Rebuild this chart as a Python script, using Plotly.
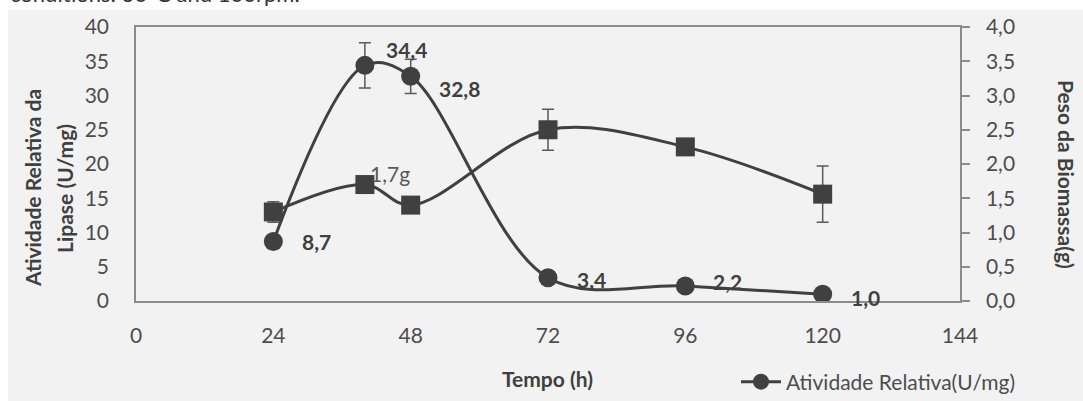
import plotly.graph_objects as go

# ---- data ----
tempo = [24, 40, 48, 72, 96, 120]
atividade = [8.7, 34.4, 32.8, 3.4, 2.2, 1.0]
atividade_err = [0, 3.3, 2.5, 0, 0, 0]
atividade_labels = ["8,7", "34,4", "32,8", "3,4", "2,2", "1,0"]
biomassa = [1.3, 1.7, 1.4, 2.5, 2.25, 1.56]
biomassa_err = [0.15, 0, 0, 0.3, 0, 0.41]
x_ticks = [0, 24, 48, 72, 96, 120, 144]

# ---- layout geometry (pixels) ----
W, H = 1083, 401
L, R, T, B = 136, 960, 27, 301
pw, ph = R - L, B - T


def px_x(p):
    return (p - L) / pw


def px_y(p):
    return (B - p) / ph


DARK = "#404040"
TXT = "#4d4d4d"
AX = "#8c8c8c"
FONT = "Lato"

fig = go.Figure()

fig.add_trace(go.Scatter(
    x=tempo, y=biomassa, yaxis="y2", mode="lines+markers",
    name="Peso da Biomassa(g)", showlegend=False,
    line=dict(color=DARK, width=3, shape="spline", smoothing=1.0),
    marker=dict(symbol="square", size=19, color=DARK),
    error_y=dict(type="data", array=biomassa_err, visible=True,
                 color="#5a5a5a", thickness=1.5, width=6),
))

fig.add_trace(go.Scatter(
    x=tempo, y=atividade, mode="lines+markers",
    name="Atividade Relativa(U/mg)",
    line=dict(color=DARK, width=3, shape="spline", smoothing=1.0),
    marker=dict(symbol="circle", size=19, color=DARK),
    error_y=dict(type="data", array=atividade_err, visible=True,
                 color="#5a5a5a", thickness=1.5, width=6),
))

annotations = []
# data labels for activity series
label_offsets = [(43, 0), (42, 16), (49, -12), (43, -2), (42, 4), (43, -3)]
for xv, yv, txt, (dx, dy) in zip(tempo, atividade, atividade_labels, label_offsets):
    annotations.append(dict(
        x=xv, y=yv, xref="x", yref="y", text="<b>" + txt + "</b>",
        showarrow=False, xshift=dx, yshift=dy, xanchor="center", yanchor="middle",
        font=dict(family=FONT, size=21, color=DARK)))
# biomass label
annotations.append(dict(
    x=tempo[1], y=biomassa[1], xref="x", yref="y2", text="1,7g",
    showarrow=False, xshift=25, yshift=11, xanchor="center", yanchor="middle",
    font=dict(family=FONT, size=21, color="#595959")))

# axis titles
title_font = dict(family=FONT, size=21, color=DARK)
annotations.append(dict(
    x=px_x(32), y=px_y(188), xref="paper", yref="paper",
    xanchor="center", yanchor="middle",
    text="<b>Atividade Relativa da</b>", textangle=-90, showarrow=False,
    font=title_font))
annotations.append(dict(
    x=px_x(64), y=px_y(189), xref="paper", yref="paper",
    xanchor="center", yanchor="middle",
    text="<b>Lipase (U/mg)</b>", textangle=-90, showarrow=False,
    font=title_font))
annotations.append(dict(
    x=px_x(1067), y=px_y(174), xref="paper", yref="paper",
    xanchor="center", yanchor="middle",
    text="<b>Peso da Biomassa(g)</b>", textangle=90, showarrow=False,
    font=title_font))
annotations.append(dict(
    x=px_x(547), y=px_y(378), xref="paper", yref="paper",
    xanchor="center", yanchor="middle",
    text="<b>Tempo (h)</b>", showarrow=False,
    font=title_font))
# clipped caption at very top
annotations.append(dict(
    x=px_x(8), y=px_y(8.5), xref="paper", yref="paper", xanchor="left",
    yanchor="bottom", text="conditions: 30°C and 100rpm.", showarrow=False,
    font=dict(family=FONT, size=22, color="#333333")))

shapes = [dict(
    type="rect", xref="paper", yref="paper", layer="below",
    x0=px_x(8), x1=px_x(W + 5), y0=px_y(H + 5), y1=px_y(10),
    fillcolor="#f2f2f2", line=dict(width=0))]

fig.update_layout(
    width=W, height=H,
    margin=dict(l=L, r=W - R, t=T, b=H - B, pad=0, autoexpand=False),
    paper_bgcolor="white", plot_bgcolor="rgba(0,0,0,0)",
    separators=",.",
    font=dict(family=FONT, size=21, color=TXT),
    showlegend=True,
    legend=dict(x=px_x(736), y=px_y(382), xanchor="left", yanchor="middle",
                bgcolor="rgba(0,0,0,0)", font=dict(family=FONT, size=21, color=TXT),
                itemwidth=40),
    xaxis=dict(range=[0, 144], tickvals=x_ticks, showgrid=False, zeroline=False,
               showline=True, linecolor=AX, linewidth=1.5, mirror=True,
               ticks="", ticklabelstandoff=15,
               tickfont=dict(family=FONT, size=21, color=TXT)),
    yaxis=dict(range=[0, 40], dtick=5, showgrid=False, zeroline=False,
               showline=True, linecolor=AX, linewidth=1.5, mirror=True,
               ticks="", ticklabelstandoff=21,
               tickfont=dict(family=FONT, size=21, color=TXT)),
    yaxis2=dict(range=[0, 4], dtick=0.5, tickformat=".1f", overlaying="y",
                side="right", showgrid=False, zeroline=False,
                showline=True, linecolor=AX, linewidth=1.5,
                ticks="outside", ticklen=8, tickcolor=AX, tickwidth=1.5,
                ticklabelstandoff=12,
                tickfont=dict(family=FONT, size=21, color=TXT)),
    annotations=annotations,
    shapes=shapes,
)

fig.write_html("out.html",
               config={"displayModeBar": False},
               post_script="document.body.style.margin='0px';"
                           "document.body.style.overflow='hidden';")
